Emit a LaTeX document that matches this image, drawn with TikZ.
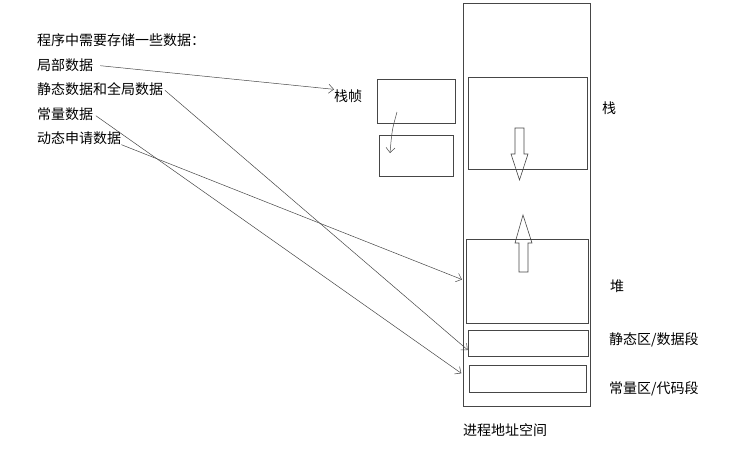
\documentclass[tikz,border=0pt]{standalone}
\usepackage{fontspec}
\setmainfont{Noto Sans CJK SC}
\usetikzlibrary{arrows.meta,positioning}
\definecolor{edgegray}{RGB}{70,70,70}

\begin{document}
\begin{tikzpicture}[x=1pt, y=-1pt, every node/.style={font=\fontsize{14}{16}\selectfont}]
\tikzset{
    segbox/.style 2 args={draw=edgegray, line width=0.6pt, inner sep=0pt, minimum width=#1, minimum height=#2},
    txt/.style={anchor=west, inner sep=0pt},
    link/.style={draw=edgegray, line width=0.5pt, -{Straight Barb[length=5pt,width=9pt]}},
    blockarrow/.style={draw=edgegray, line width=0.6pt}
}
\useasboundingbox (0,0) rectangle (749,450);

% left side: what must be stored
\node[txt] (title) at (37,40) {程序中需要存储一些数据：};
\node[txt] (local) at (37,65) {局部数据};
\node[txt] (global) at (37,89) {静态数据和全局数据};
\node[txt] (const) at (37,114) {常量数据};
\node[txt] (dyn) at (37,138) {动态申请数据};

% stack frames
\node[txt] (framelbl) at (334,96) {栈帧};
\node[segbox={78pt}{44pt}] (frameA) at (416,101) {};
\node[segbox={74pt}{41pt}] (frameB) at (416,155.5) {};
\coordinate (fa) at (397,112);
\coordinate (fb) at (390,153);

% process address space
\node[segbox={127pt}{403pt}] (space) at (526.5,204.5) {};
\node[segbox={119pt}{92pt}] (stack) at (527.5,123) {};
\node[segbox={122pt}{84pt}] (heap) at (527,281) {};
\node[segbox={120pt}{26pt}] (static) at (528,343) {};
\node[segbox={117pt}{27pt}] (code) at (527.5,378.5) {};

\node[txt] (stacklbl) at (602,108) {栈};
\node[txt] (heaplbl) at (610,286) {堆};
\node[txt] (staticlbl) at (609,340) {静态区/数据段};
\node[txt] (codelbl) at (609,389) {常量区/代码段};
\node[txt] (spacelbl) at (463,430) {进程地址空间};

% growth directions
\draw[blockarrow] (515,128) -- (524,128) -- (524,154) -- (528,154) -- (519.5,180) -- (511,154) -- (515,154) -- cycle;
\draw[blockarrow] (519,272) -- (528,272) -- (528,243) -- (532,243) -- (523,215) -- (515,243) -- (519,243) -- cycle;

% where each kind of data goes
\draw[link, shorten <=7pt] (local.east) -- (framelbl.north west);
\draw[link, shorten <=2pt] (global.east) -- ([yshift=-7pt]static.west);
\draw[link, shorten <=3pt, shorten >=9pt] (const.east) -- (code.west);
\draw[link, shorten >=4pt] (dyn.south east) -- (heap.west);
\draw[link] (fa) .. controls (392,130) .. (fb);

\end{tikzpicture}
\end{document}
